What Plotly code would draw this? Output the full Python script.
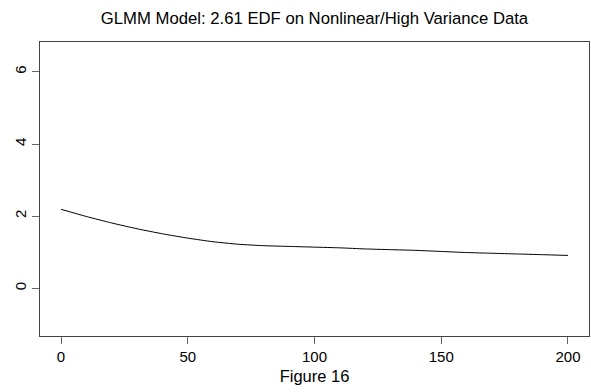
import plotly.graph_objects as go

x_vals = [0, 10, 20, 30, 40, 50, 60, 70, 80, 90, 100, 110, 120, 130, 140, 150, 160, 170, 180, 190, 200]
y_vals = [2.19, 1.99, 1.81, 1.65, 1.51, 1.39, 1.29, 1.22, 1.18, 1.16, 1.14, 1.12, 1.09, 1.07, 1.05, 1.02, 0.99, 0.97, 0.95, 0.93, 0.91]
x_ticks = [0, 50, 100, 150, 200]
y_ticks = [0, 2, 4, 6]

W, H = 591, 392
L, R, T, B = 40, 2, 42, 56

fig = go.Figure()
fig.add_trace(go.Scatter(x=x_vals, y=y_vals, mode="lines",
                         line=dict(color="black", width=1, shape="spline", smoothing=0.6),
                         showlegend=False, hoverinfo="skip"))

font = dict(family="Liberation Sans, Arial, sans-serif", color="black")
fig.update_layout(
    width=W, height=H,
    margin=dict(l=L, r=R, t=T, b=B, pad=0),
    paper_bgcolor="white", plot_bgcolor="white",
    font=dict(size=15, **font),
    title=dict(text="GLMM Model: 2.61 EDF on Nonlinear/High Variance Data",
               xref="paper", x=0.5, xanchor="center",
               yref="container", y=1 - 18 / H, yanchor="middle",
               font=dict(size=16.7, **font)),
    xaxis=dict(range=[-8.3, 208.3], tickvals=x_ticks, ticktext=[str(v) for v in x_ticks],
               showgrid=False, zeroline=False, showline=True, mirror=True,
               linecolor="#444444", linewidth=1.3, ticks="outside", ticklen=7,
               tickcolor="#666666", tickwidth=1, tickfont=dict(size=15, **font),
               title=dict(text="Figure 16", font=dict(size=16.5, **font), standoff=6)),
    yaxis=dict(range=[-1.325, 6.83], tickvals=y_ticks, ticktext=[str(v) for v in y_ticks],
               showgrid=False, zeroline=False, showline=True, mirror=True,
               linecolor="#444444", linewidth=1.3, ticks="outside", ticklen=7,
               tickcolor="#666666", tickwidth=1, tickangle=-90,
               tickfont=dict(size=15, **font)),
)
fig.write_html("out.html")
